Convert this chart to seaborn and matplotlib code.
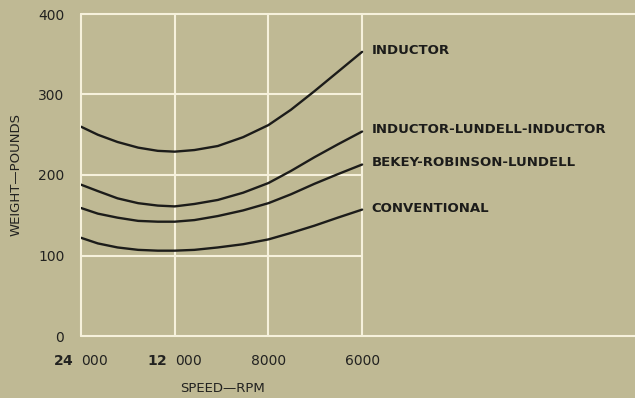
import numpy as np
import pandas as pd
import seaborn as sns
from matplotlib import pyplot as plt

# speed axis: four evenly spaced grid columns
speed_labels = [r"$\mathbf{24}$  000", r"$\mathbf{12}$  000", "8000", "6000"]
speed_ticks = [0, 1, 2, 3]

# curve sample positions (in grid-column units) and weights
pos = [0, 0.18, 0.39, 0.61, 0.82, 1.0, 1.21, 1.46, 1.73, 2.0, 2.24, 2.49, 2.74, 3.0]
inductor = [260, 250, 241, 234, 230, 229, 231, 236, 247, 262, 281, 304, 328, 353]
ili = [188, 180, 171, 165, 162, 161, 164, 169, 178, 190, 205, 222, 238, 254]
brl = [159, 152, 147, 143, 142, 142, 144, 149, 156, 165, 176, 189, 201, 213]
conventional = [122, 115, 110, 107, 106, 106, 107, 110, 114, 120, 128, 137, 147, 157]

names = ["INDUCTOR", "INDUCTOR-LUNDELL-INDUCTOR", "BEKEY-ROBINSON-LUNDELL", "CONVENTIONAL"]
series = [inductor, ili, brl, conventional]

df = pd.concat([pd.DataFrame({"pos": pos, "weight": s, "design": n})
                for n, s in zip(names, series)])

bg = "#bfb994"
grid = "#f6f1dc"
ink = "#1c1c1a"

sns.set_theme(style="white", rc={"axes.facecolor": bg, "figure.facecolor": bg})
plt.rcParams["font.family"] = ["DejaVu Sans"]

fig = plt.figure(figsize=(6.35, 3.98), dpi=100)
ax = fig.add_axes([81/635, 1-336/398, 1-81/635, (336-14)/398])
xmax = 554/93.7
ax.set_xlim(0, xmax)
ax.set_ylim(0, 400)

# white grid
for x in speed_ticks:
    ax.plot([x, x], [0, 400], color=grid, lw=1.5, clip_on=False, zorder=1)
for y in [100, 200, 300]:
    ax.plot([0, 3], [y, y], color=grid, lw=1.5, zorder=1)
for y in [0, 400]:
    ax.plot([0, xmax], [y, y], color=grid, lw=1.5, clip_on=False, zorder=1)

sns.lineplot(data=df, x="pos", y="weight", hue="design", palette=[ink]*4,
             legend=False, lw=1.7, ax=ax, zorder=3,
             solid_joinstyle="round", solid_capstyle="round")

for n, s in zip(names, series):
    ax.text(3.1, s[-1] + 2, n, fontsize=9.5, fontweight="bold", color=ink,
            va="center", ha="left")

for sp in ax.spines.values():
    sp.set_visible(False)
ax.set_xticks(speed_ticks)
ax.set_xticklabels(speed_labels)
ax.set_yticks([0, 100, 200, 300, 400])
ax.tick_params(axis="both", length=0, labelsize=10, colors="#222220")
ax.tick_params(axis="x", pad=13)
ax.tick_params(axis="y", pad=12)
ax.set_xlabel("")
ax.set_ylabel("")

fig.text(16/635, 1-175/398, "WEIGHT\u2014POUNDS", rotation=90, fontsize=9.5,
         ha="center", va="center", color="#222220")
fig.text(222/635, 1-388/398, "SPEED\u2014RPM", fontsize=9.5,
         ha="center", va="center", color="#222220")

fig.savefig("out.png", dpi=100, facecolor=bg)
